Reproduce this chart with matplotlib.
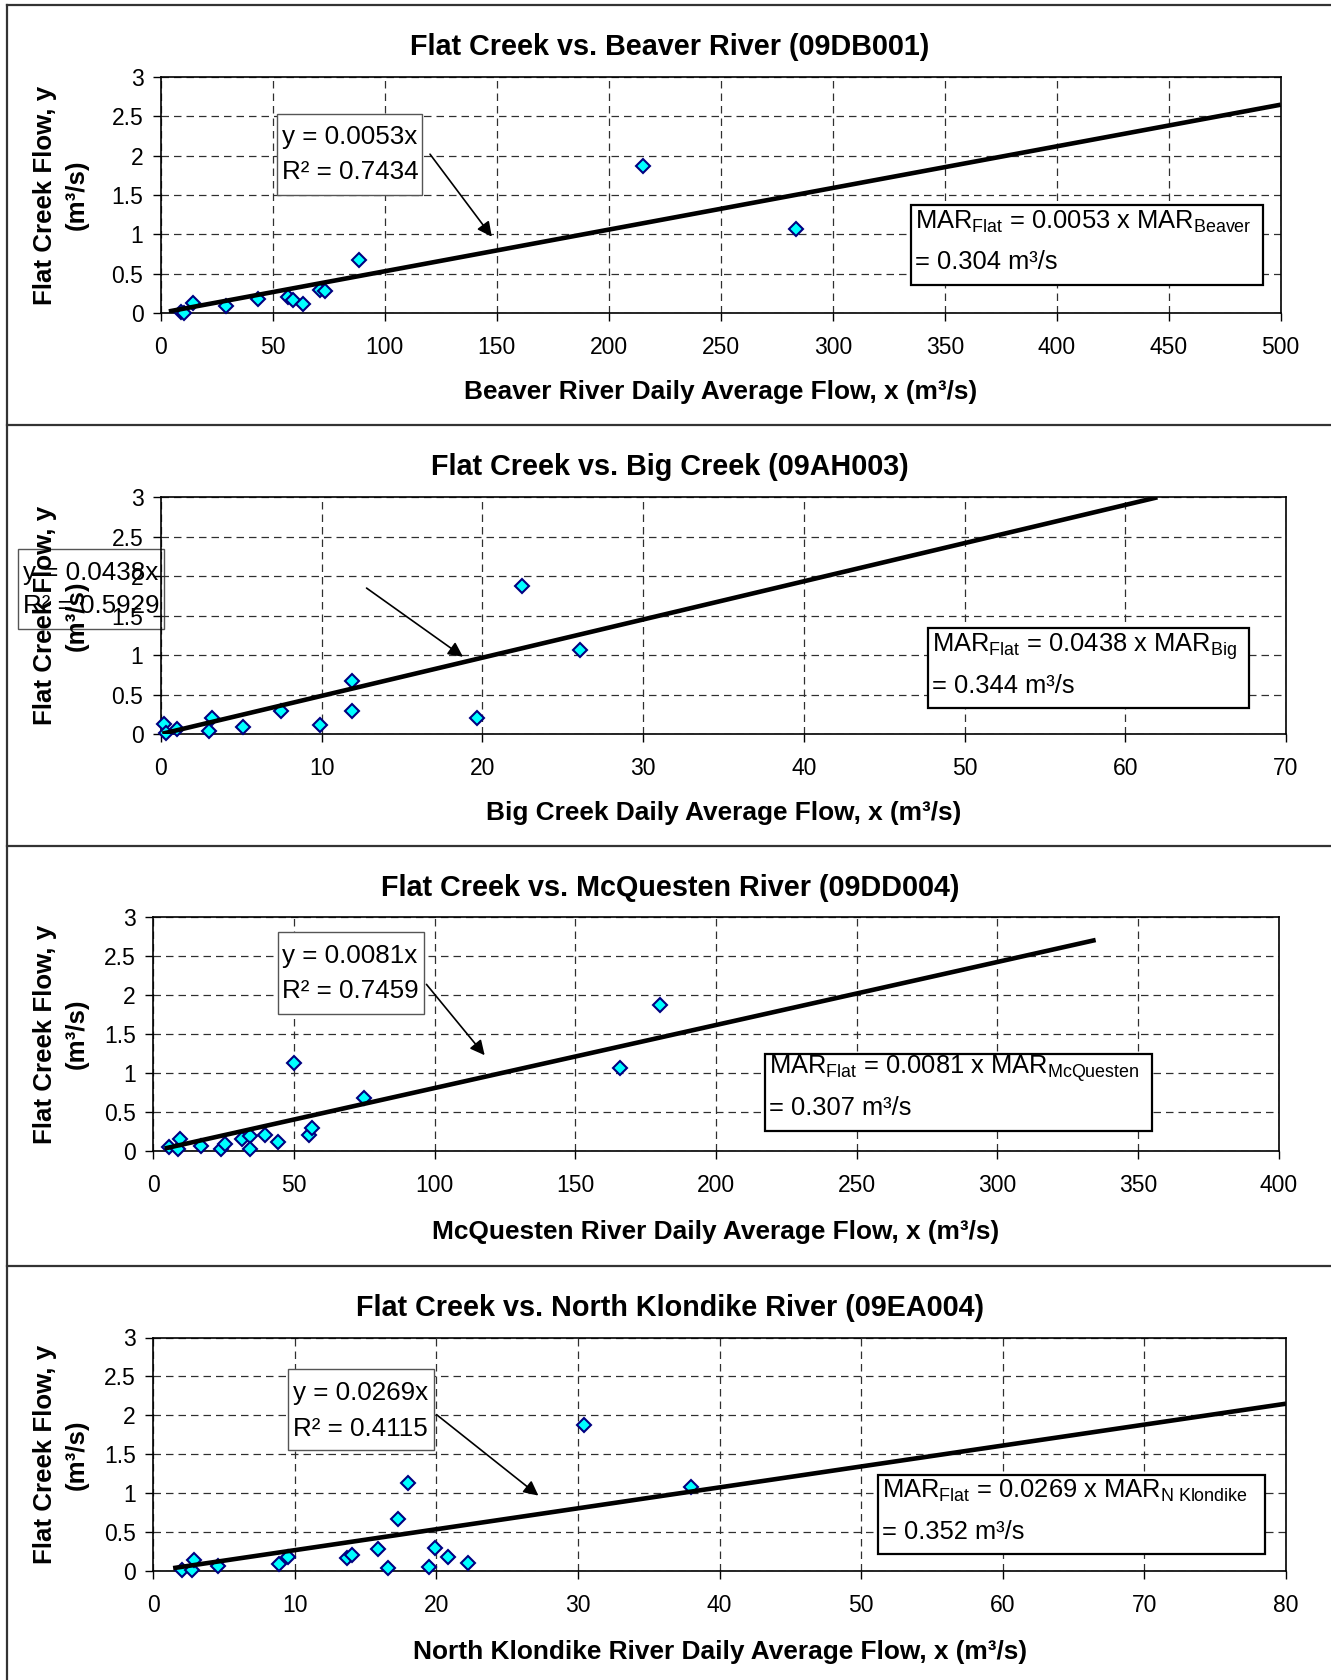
import matplotlib.pyplot as plt
from matplotlib.patches import Rectangle
from matplotlib.lines import Line2D
from matplotlib.ticker import FormatStrFormatter

plt.rcParams['font.family'] = ['Liberation Sans', 'DejaVu Sans']
plt.rcParams['mathtext.fontset'] = 'custom'
plt.rcParams['mathtext.rm'] = 'Liberation Sans'
plt.rcParams['mathtext.it'] = 'Liberation Sans:italic'
plt.rcParams['mathtext.bf'] = 'Liberation Sans:bold'

# ---- data ----
beaver_x = [9.1, 10.5, 14.2, 28.9, 43.5, 56.9, 58.9, 63.6, 71.1, 73.1, 88.5, 215.4, 283.8]
beaver_y = [0.01, 0.0, 0.13, 0.085, 0.18, 0.20, 0.16, 0.11, 0.29, 0.28, 0.67, 1.87, 1.07]
beaver_trend_x = [3.6, 500]
beaver_trend_y = [0.019, 2.65]

big_x = [0.2, 0.3, 1.0, 3.0, 3.2, 5.1, 7.5, 9.9, 11.9, 11.9, 19.7, 22.5, 26.1]
big_y = [0.13, 0.02, 0.07, 0.04, 0.20, 0.09, 0.29, 0.11, 0.67, 0.29, 0.21, 1.87, 1.07]
big_trend_x = [0.1, 62.0]
big_trend_y = [0.005, 3.0]

mcq_x = [5.6, 8.7, 9.4, 17.0, 24.1, 25.4, 31.7, 34.4, 34.3, 39.7, 44.4, 50.0, 55.4, 56.3,
         74.8, 165.9, 180.0]
mcq_y = [0.05, 0.03, 0.16, 0.06, 0.03, 0.09, 0.16, 0.19, 0.03, 0.20, 0.11, 1.13, 0.20, 0.30,
         0.68, 1.07, 1.87]
mcq_trend_x = [4.0, 335.0]
mcq_trend_y = [0.032, 2.71]

nk_x = [2.0, 2.7, 2.9, 4.6, 8.9, 9.5, 13.7, 14.0, 15.9, 16.6, 17.3, 18.0, 19.5, 19.9,
        20.8, 22.2, 30.4, 38.0]
nk_y = [0.02, 0.02, 0.14, 0.06, 0.09, 0.18, 0.17, 0.21, 0.29, 0.04, 0.67, 1.13, 0.05, 0.30,
        0.18, 0.11, 1.87, 1.08]
nk_trend_x = [1.4, 80.0]
nk_trend_y = [0.038, 2.15]

titles = ['Flat Creek vs. Beaver River (09DB001)',
          'Flat Creek vs. Big Creek (09AH003)',
          'Flat Creek vs. McQuesten River (09DD004)',
          'Flat Creek vs. North Klondike River (09EA004)']
xlabels = ['Beaver River Daily Average Flow, x (m³/s)',
           'Big Creek Daily Average Flow, x (m³/s)',
           'McQuesten River Daily Average Flow, x (m³/s)',
           'North Klondike River Daily Average Flow, x (m³/s)']
eq_lines = [('y = 0.0053x', 'R² = 0.7434'),
            ('y = 0.0438x', 'R² = 0.5929'),
            ('y = 0.0081x', 'R² = 0.7459'),
            ('y = 0.0269x', 'R² = 0.4115')]
mar_lines = [(r'MAR$_{\mathrm{Flat}}$ = 0.0053 x MAR$_{\mathrm{Beaver}}$', '= 0.304 m³/s'),
             (r'MAR$_{\mathrm{Flat}}$ = 0.0438 x MAR$_{\mathrm{Big}}$', '= 0.344 m³/s'),
             (r'MAR$_{\mathrm{Flat}}$ = 0.0081 x MAR$_{\mathrm{McQuesten}}$', '= 0.307 m³/s'),
             (r'MAR$_{\mathrm{Flat}}$ = 0.0269 x MAR$_{\mathrm{N\ Klondike}}$', '= 0.352 m³/s')]
x_max = [500, 70, 400, 80]
x_step = [50, 10, 50, 10]

series = [(beaver_x, beaver_y, beaver_trend_x, beaver_trend_y),
          (big_x, big_y, big_trend_x, big_trend_y),
          (mcq_x, mcq_y, mcq_trend_x, mcq_trend_y),
          (nk_x, nk_y, nk_trend_x, nk_trend_y)]

# ---- layout (pixels) ----
W, H = 1331, 1680
axes_px = [(160.8, 77.2, 1280.7, 312.9),
           (160.8, 497.3, 1286.0, 734.1),
           (153.3, 917.4, 1278.5, 1151.0),
           (153.3, 1337.5, 1286.0, 1571.1)]
title_y = [47, 467, 888, 1308]
xlabel_y = [392, 813, 1232, 1652]
# boxes in data coords: (x0, x1, y_top, y_bottom, text_x, line1_y, line2_y)
eq_box = [(52.0, 116.6, 2.53, 1.50, 54.3, 2.24, 1.79),
          (-8.87, 0.2, 2.345, 1.33, -8.55, 2.04, 1.62),
          (44.2, 96.1, 2.81, 1.76, 45.8, 2.50, 2.05),
          (9.5, 19.8, 2.60, 1.56, 9.85, 2.29, 1.83)]
mar_box = [(334.8, 491.9, 1.377, 0.354, 336.7, 1.16, 0.65),
           (47.7, 67.7, 1.35, 0.33, 48.0, 1.11, 0.61),
           (217.5, 355.1, 1.25, 0.26, 218.7, 1.06, 0.55),
           (51.2, 78.5, 1.24, 0.22, 51.5, 1.03, 0.50)]
arrows = [((120.2, 2.02), (147.8, 0.97)),
          ((12.8, 1.85), (18.8, 0.98)),
          ((97.1, 2.14), (117.8, 1.23)),
          ((20.0, 2.01), (27.2, 0.97))]

fig = plt.figure(figsize=(W / 100, H / 100), dpi=100)

for i in range(4):
    l, t, r, b = axes_px[i]
    ax = fig.add_axes([l / W, 1 - b / H, (r - l) / W, (b - t) / H])
    ax.set_facecolor('none')
    ax.set_axisbelow(True)
    xs, ys, tx, ty = series[i]

    ax.plot(xs, ys, linestyle='none', marker='D', markersize=7,
            markerfacecolor='#00FFFF', markeredgecolor='#000080',
            markeredgewidth=1.5, zorder=3, clip_on=False)
    ax.plot(tx, ty, color='black', lw=3.3, solid_capstyle='butt', zorder=4)

    ax.set_xlim(0, x_max[i])
    ax.set_ylim(0, 3)
    ax.set_xticks(range(0, x_max[i] + 1, x_step[i]))
    ax.set_yticks([0, 0.5, 1, 1.5, 2, 2.5, 3])
    ax.yaxis.set_major_formatter(FormatStrFormatter('%g'))
    ax.grid(True, color='#303030', lw=0.9, linestyle=(0, (6, 4)))
    ax.tick_params(direction='out', length=5.5, width=1, labelsize=16.5)
    ax.tick_params(axis='x', pad=11)
    ax.tick_params(axis='y', pad=7)
    for s in ax.spines.values():
        s.set_linewidth(1.2)

    # equation box
    x0, x1, yt, yb, txx, y1, y2 = eq_box[i]
    bz = 0.3 if i == 1 else 5
    ax.add_patch(Rectangle((x0, yb), x1 - x0, yt - yb, facecolor='white',
                           edgecolor='#555555', lw=1, zorder=bz, clip_on=False))
    ax.text(txx, y1, eq_lines[i][0], fontsize=18.7, va='center', ha='left',
            zorder=bz + 0.01, clip_on=False)
    ax.text(txx, y2, eq_lines[i][1], fontsize=18.7, va='center', ha='left',
            zorder=bz + 0.01, clip_on=False)

    # MAR box
    x0, x1, yt, yb, txx, y1, y2 = mar_box[i]
    ax.add_patch(Rectangle((x0, yb), x1 - x0, yt - yb, facecolor='white',
                           edgecolor='black', lw=1.6, zorder=5, clip_on=False))
    ax.text(txx, y1, mar_lines[i][0], fontsize=18.4, va='center', ha='left', zorder=6)
    ax.text(txx, y2, mar_lines[i][1], fontsize=18.4, va='center', ha='left', zorder=6)

    # arrow
    a0, a1 = arrows[i]
    ax.annotate('', xy=a1, xytext=a0,
                arrowprops=dict(arrowstyle='-|>', color='black', lw=1.2,
                                mutation_scale=22, shrinkA=0, shrinkB=0),
                zorder=6)

    # title, labels
    fig.text(670 / W, 1 - title_y[i] / H, titles[i], ha='center', va='center',
             fontsize=20.7, fontweight='bold')
    fig.text((l + r) / 2 / W, 1 - xlabel_y[i] / H, xlabels[i], ha='center',
             va='center', fontsize=18.9, fontweight='bold')
    yc = 1 - (t + b) / 2 / H
    fig.text(45 / W, yc, 'Flat Creek Flow, y', rotation=90, ha='center',
             va='center', fontsize=18.6, fontweight='bold', zorder=10)
    fig.text(77 / W, yc, '(m³/s)', rotation=90, ha='center', va='center',
             fontsize=18.6, fontweight='bold', zorder=10)

# outer frame and panel separators
frame_col = '#333333'
fig.add_artist(Line2D([7 / W, 7 / W], [0, 1 - 5 / H], color=frame_col, lw=1.6))
for yy in [5, 425, 845.6, 1265.7]:
    fig.add_artist(Line2D([7 / W, 1], [1 - yy / H, 1 - yy / H], color=frame_col, lw=1.6))

plt.savefig('out.png', dpi=100)
